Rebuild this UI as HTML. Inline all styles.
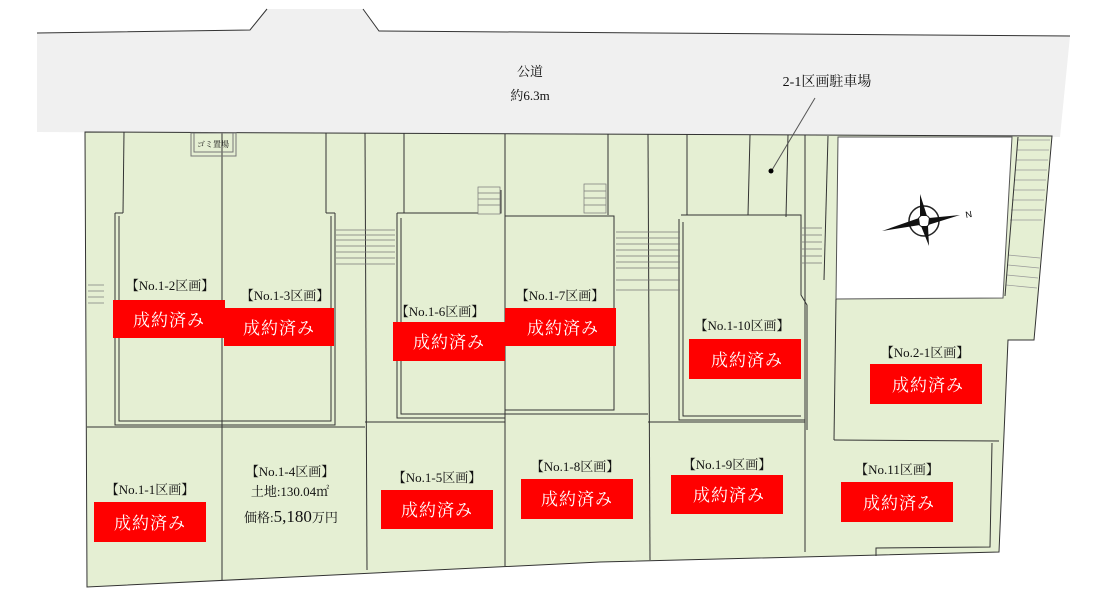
<!DOCTYPE html>
<html><head><meta charset="utf-8"><style>
html,body{margin:0;padding:0;background:#fff;width:1096px;height:594px;overflow:hidden}
svg{display:block}
.t{font-family:"Liberation Serif","Noto Serif CJK SC",serif;font-size:13px;fill:#111;text-anchor:middle}
.w{font-family:"Liberation Serif","Noto Serif CJK SC",serif;font-size:17px;fill:#fff;text-anchor:middle;letter-spacing:1px}
.l{stroke:#333;stroke-width:1;fill:none}
.d{stroke:#555;stroke-width:3;fill:none}
.d2{stroke:#e5efd3;stroke-width:1;fill:none}
</style></head><body>
<svg width="1096" height="594" viewBox="0 0 1096 594">
<!-- road -->
<polygon points="37,33 250,30 267,9 363,9 379,31 1070,36 1060,137 37,132" fill="#f0f0f0"/>
<polyline points="37,33 250,30 267,9" class="l" stroke="#555"/>
<polyline points="363,9 379,31 1070,36" class="l" stroke="#555"/>
<!-- green land -->
<polygon points="85,132 1052,136 1034,340 1008,340 999,552 600,562 87,587" fill="#e5efd3" stroke="#333"/>
<!-- compass white area -->
<polygon points="838,137 1012,137 1003,298 836,299" fill="#fff" stroke="#555"/>
<!-- right stairs strip -->
<g stroke="#999" stroke-width="0.7">
<line x1="1018" y1="140" x2="1050" y2="140"/><line x1="1017" y1="150" x2="1049" y2="150"/><line x1="1016" y1="160" x2="1048" y2="160"/><line x1="1015" y1="170" x2="1047" y2="170"/><line x1="1014" y1="180" x2="1046" y2="180"/><line x1="1013" y1="190" x2="1045" y2="190"/><line x1="1012" y1="200" x2="1044" y2="200"/><line x1="1011" y1="210" x2="1043" y2="210"/><line x1="1010" y1="220" x2="1042" y2="220"/><line x1="1008" y1="255" x2="1040" y2="258"/><line x1="1008" y1="265" x2="1039" y2="268"/><line x1="1007" y1="275" x2="1038" y2="278"/><line x1="1006" y1="285" x2="1037" y2="288"/>
</g>
<line x1="1018" y1="137" x2="1005" y2="296" class="l"/>
<!-- lot lines -->
<g class="l">
<line x1="124" y1="132" x2="123" y2="213"/><line x1="123" y1="213" x2="115" y2="213"/>
<line x1="222" y1="133" x2="222" y2="580"/>
<line x1="326" y1="133" x2="326" y2="213"/><line x1="326" y1="213" x2="335" y2="213"/>
<line x1="365" y1="133" x2="367" y2="570"/>
<line x1="404" y1="133" x2="404" y2="213"/>
<line x1="505" y1="134" x2="505" y2="566"/>
<line x1="608" y1="134" x2="608" y2="215"/>
<line x1="648" y1="134" x2="650" y2="560"/>
<line x1="687" y1="134" x2="687" y2="215"/>
<line x1="750" y1="135" x2="748" y2="215"/>
<line x1="788" y1="135" x2="786" y2="217"/>
<line x1="805" y1="135" x2="805" y2="445"/><line x1="805" y1="445" x2="805" y2="552"/>
<line x1="828" y1="136" x2="824" y2="280"/>
<line x1="87" y1="427" x2="365" y2="427"/>
<line x1="365" y1="422" x2="505" y2="422"/>
<line x1="505" y1="414" x2="648" y2="414"/>
<line x1="648" y1="422" x2="805" y2="422"/>
<line x1="836" y1="299" x2="834" y2="440"/>
<line x1="834" y1="440" x2="999" y2="441"/>
</g>
<!-- house outlines -->
<g class="l" stroke="#444">
<polyline points="115,213 115,425 335,425 335,213"/>
<polyline points="119,216 119,421 331,421 331,216"/>
<polyline points="397,213 397,418 505,418"/>
<polyline points="401,218 401,414 505,414"/>
<polyline points="397,213 501,213 501,190"/>
<polyline points="505,216 614,216 614,410 505,410"/>
<polyline points="681,215 801,215 801,295 807,305 807,430"/>
<polyline points="679,219 679,420 805,420"/>
<polyline points="683,222 683,416 801,416"/>
<polyline points="992,443 990,547 876,548 876,556"/>
</g>
<!-- stairs -->
<g stroke="#777" stroke-width="0.7">
<rect x="478" y="187" width="22" height="27" fill="#e5efd3"/>
<line x1="478" y1="193" x2="500" y2="193"/><line x1="478" y1="199" x2="500" y2="199"/><line x1="478" y1="205" x2="500" y2="205"/>
<rect x="584" y="184" width="22" height="29" fill="#e5efd3"/>
<line x1="584" y1="191" x2="606" y2="191"/><line x1="584" y1="198" x2="606" y2="198"/><line x1="584" y1="205" x2="606" y2="205"/>
<line x1="336" y1="230" x2="395" y2="230"/><line x1="336" y1="235" x2="395" y2="235"/><line x1="336" y1="240" x2="395" y2="240"/><line x1="336" y1="246" x2="395" y2="246"/><line x1="336" y1="252" x2="395" y2="252"/><line x1="336" y1="258" x2="395" y2="258"/><line x1="336" y1="264" x2="395" y2="264"/>
<line x1="616" y1="232" x2="680" y2="232"/><line x1="616" y1="238" x2="680" y2="238"/><line x1="616" y1="244" x2="680" y2="244"/><line x1="616" y1="250" x2="680" y2="250"/><line x1="616" y1="256" x2="680" y2="256"/><line x1="616" y1="262" x2="680" y2="262"/><line x1="616" y1="268" x2="680" y2="268"/><line x1="616" y1="280" x2="680" y2="280"/><line x1="616" y1="290" x2="680" y2="290"/>
<line x1="802" y1="228" x2="822" y2="228"/><line x1="802" y1="235" x2="822" y2="235"/><line x1="802" y1="242" x2="822" y2="242"/><line x1="802" y1="249" x2="822" y2="249"/><line x1="802" y1="256" x2="822" y2="256"/><line x1="802" y1="263" x2="822" y2="263"/>
<line x1="88" y1="285" x2="104" y2="285"/><line x1="88" y1="291" x2="104" y2="291"/><line x1="88" y1="297" x2="104" y2="297"/><line x1="88" y1="303" x2="104" y2="303"/>
</g>
<rect x="191" y="133" width="45" height="23" fill="none" stroke="#777"/>
<rect x="194" y="133" width="39" height="19" fill="none" stroke="#777"/>
<text x="213" y="147" class="t" style="font-size:8px">ゴミ置場</text>
<!-- road text -->
<text x="530" y="76" class="t">公道</text>
<text x="530" y="100" class="t">約6.3m</text>
<text x="827" y="86" class="t" style="font-size:14px">2-1区画駐車場</text>
<line x1="815" y1="98" x2="772" y2="170" stroke="#555"/>
<circle cx="771" cy="171" r="2.5" fill="#000"/>
<!-- compass -->
<g transform="translate(924,221)">
<circle r="15" fill="none" stroke="#222" stroke-width="1.5"/>
<circle r="6" fill="#fff" stroke="#222"/>
<polygon points="-42,10 -5,-3 -4,4" fill="#111"/>
<polygon points="36,-6 5,-3 4,4" fill="#111"/>
<polygon points="-4,-27 -4,-5 3,-5" fill="#111"/>
<polygon points="5,25 -3,5 4,5" fill="#111"/>
<text x="42" y="-3" style="font-family:'Liberation Sans',sans-serif;font-size:9px" transform="rotate(-10 42 -3)">N</text>
</g>
<!-- labels -->
<text x="170" y="290" class="t">【No.1-2区画】</text>
<rect x="113" y="300" width="112" height="38" fill="#f00"/><text x="169" y="326" class="w">成約済み</text>
<text x="285" y="300" class="t">【No.1-3区画】</text>
<rect x="224" y="308" width="110" height="38" fill="#f00"/><text x="279" y="334" class="w">成約済み</text>
<text x="440" y="316" class="t">【No.1-6区画】</text>
<rect x="393" y="322" width="112" height="39" fill="#f00"/><text x="449" y="348" class="w">成約済み</text>
<text x="560" y="300" class="t">【No.1-7区画】</text>
<rect x="505" y="308" width="111" height="38" fill="#f00"/><text x="563" y="334" class="w">成約済み</text>
<text x="742" y="330" class="t">【No.1-10区画】</text>
<rect x="689" y="339" width="112" height="40" fill="#f00"/><text x="747" y="366" class="w">成約済み</text>
<text x="925" y="357" class="t">【No.2-1区画】</text>
<rect x="870" y="364" width="112" height="40" fill="#f00"/><text x="928" y="391" class="w">成約済み</text>
<text x="150" y="494" class="t">【No.1-1区画】</text>
<rect x="94" y="502" width="112" height="40" fill="#f00"/><text x="150" y="529" class="w">成約済み</text>
<text x="290" y="476" class="t">【No.1-4区画】</text>
<text x="290" y="496" class="t">土地:130.04㎡</text>
<text x="291" y="522" class="t">価格:<tspan style="font-size:17px">5,180</tspan>万円</text>
<text x="437" y="482" class="t">【No.1-5区画】</text>
<rect x="381" y="490" width="112" height="39" fill="#f00"/><text x="437" y="516" class="w">成約済み</text>
<text x="575" y="471" class="t">【No.1-8区画】</text>
<rect x="521" y="479" width="112" height="40" fill="#f00"/><text x="577" y="505" class="w">成約済み</text>
<text x="727" y="469" class="t">【No.1-9区画】</text>
<rect x="671" y="475" width="112" height="39" fill="#f00"/><text x="729" y="501" class="w">成約済み</text>
<text x="897" y="474" class="t">【No.11区画】</text>
<rect x="841" y="482" width="112" height="40" fill="#f00"/><text x="899" y="509" class="w">成約済み</text>
</svg>
</body></html>
